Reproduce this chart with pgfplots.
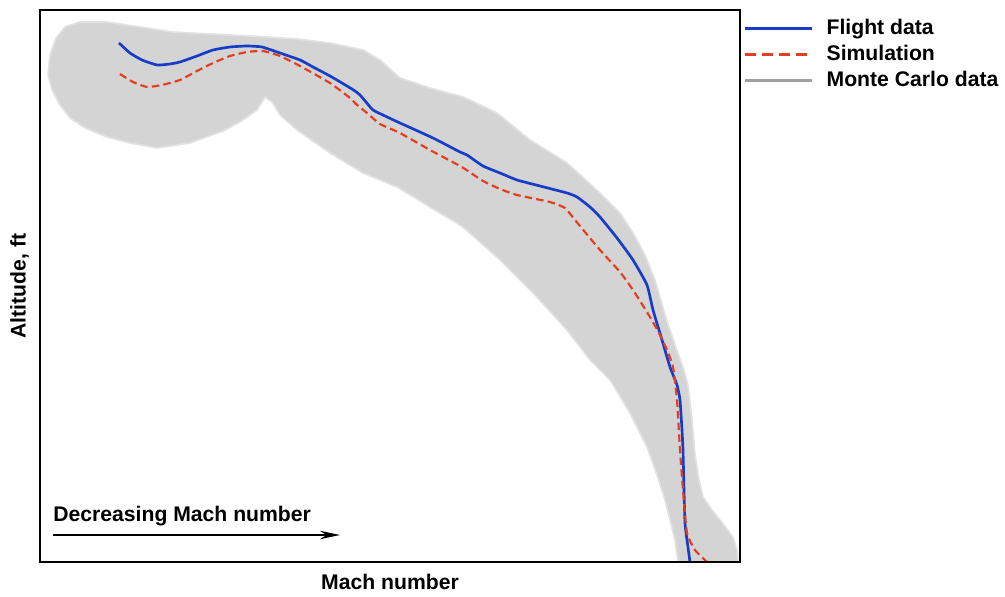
\documentclass[border=0pt]{standalone}
\usepackage{fontspec}
\setmainfont{Liberation Sans}
\usepackage{pgfplots}
\pgfplotsset{compat=1.18}
\usetikzlibrary{arrows.meta}
\definecolor{band}{RGB}{212,212,212}
\definecolor{bandedge}{RGB}{226,226,226}
\definecolor{mcline}{RGB}{160,160,160}
\definecolor{flight}{RGB}{22,60,200}
\definecolor{sim}{RGB}{228,62,32}
\begin{document}
\begin{tikzpicture}
\fontsize{12.7}{15}\selectfont\bfseries
\begin{axis}[
  scale only axis,
  width=420pt, height=331.2pt,
  xmin=40, xmax=740, ymin=-562, ymax=-10,
  xtick=\empty, ytick=\empty,
  axis on top,
  axis line style={line width=1.4pt},
  xlabel={\bfseries Mach number},
  ylabel={\bfseries Altitude, ft},
  xlabel style={at={(axis description cs:0.5,-0.036)}, anchor=center},
  ylabel style={at={(axis description cs:-0.029,0.5)}, anchor=center},
  legend style={at={(1,1)}, anchor=north west, xshift=2pt, yshift=-3.5pt,
    draw=none, fill=none, inner sep=0pt, row sep=0.5pt,
    font=\fontsize{12.7}{15}\selectfont\bfseries, cells={anchor=west}},
  legend image code/.code={\draw[#1] (0pt,0pt) -- (40pt,0pt); \path (46pt,0pt);},
]
\addplot[fill=band, draw=bandedge, line width=1pt, forget plot] coordinates {
(48,-75) (50,-55) (56,-38) (65,-27) (80,-22) (107,-22) (140,-27) (173,-32)
(210,-34) (250,-36) (297,-39) (330,-43) (363,-50) (380,-60) (400,-78)
(430,-88) (463,-97) (497,-113) (530,-140) (567,-163) (600,-193) (620,-213)
(633,-233) (645,-255) (655,-280) (665,-315) (675,-345) (683,-367) (688,-385)
(692,-420) (695,-455) (699,-480) (703,-497) (712,-510) (720,-520) (733,-537)
(737,-550) (738,-562) (678,-562) (675,-540) (670,-520) (665,-500) (657,-475)
(647,-447) (630,-413) (610,-380) (590,-360) (567,-330) (533,-293) (500,-260)
(463,-227) (430,-207) (397,-187) (363,-173) (330,-153) (297,-130) (280,-115)
(272,-102) (265,-97) (257,-110) (240,-122) (223,-131) (190,-143) (157,-148)
(130,-143) (107,-137) (85,-128) (70,-118) (60,-105) (52,-90) (48,-75)
};
\addplot[color=flight, line width=1.6pt, smooth, tension=0.3, forget plot] coordinates {
(119,-43) (130,-53) (142,-60) (157,-65) (170,-64) (180,-62) (197,-56)
(213,-50) (230,-47) (247,-46) (262,-47) (280,-53) (300,-60) (313,-67)
(330,-76) (347,-86) (355,-91) (360,-95) (366,-102) (373,-110) (385,-116)
(400,-123) (433,-138) (460,-152) (467,-155) (483,-166) (500,-173) (517,-180)
(540,-186) (567,-193) (577,-197) (590,-207) (600,-217) (617,-238) (633,-260)
(647,-285) (653,-310) (662,-340) (670,-367) (677,-385) (680,-400) (682,-430)
(683,-450) (684,-490) (685,-523) (687,-540) (690,-562)
};
\addplot[color=sim, line width=1.3pt, dash pattern=on 4.5pt off 2.5pt, smooth, tension=0.3, forget plot] coordinates {
(120,-74) (133,-82) (147,-87) (162,-85) (180,-80) (197,-71) (213,-63)
(230,-56) (247,-52) (263,-51) (280,-56) (300,-66) (330,-83) (350,-98)
(356,-104) (367,-113) (380,-124) (400,-133) (430,-150) (460,-166) (468,-171)
(483,-181) (500,-189) (517,-195) (550,-202) (565,-208) (575,-220) (600,-250)
(620,-272) (633,-290) (650,-317) (660,-335) (667,-350) (673,-367) (677,-400)
(680,-450) (683,-490) (687,-533) (695,-550) (707,-562)
};
\addlegendimage{color=flight, line width=1.8pt}
\addlegendentry{Flight data}
\addlegendimage{color=sim, line width=1.8pt, dash pattern=on 6.5pt off 3.7pt}
\addlegendentry{Simulation}
\addlegendimage{color=mcline, line width=1.8pt}
\addlegendentry{Monte Carlo data}
\node[anchor=west, inner sep=0pt] at (axis cs:53,-516) {Decreasing Mach number};
\draw[line width=0.8pt, -{Stealth[length=12pt,width=5pt]}] (axis cs:53,-535) -- (axis cs:340,-535);
\coordinate (bl) at (axis cs:40,-562);
\coordinate (tr) at (axis cs:740,-10);
\end{axis}
\pgfresetboundingbox
\path ([shift={(-24pt,-20.4pt)}]bl) rectangle ([shift={(159pt,6pt)}]tr);
\end{tikzpicture}
\end{document}
